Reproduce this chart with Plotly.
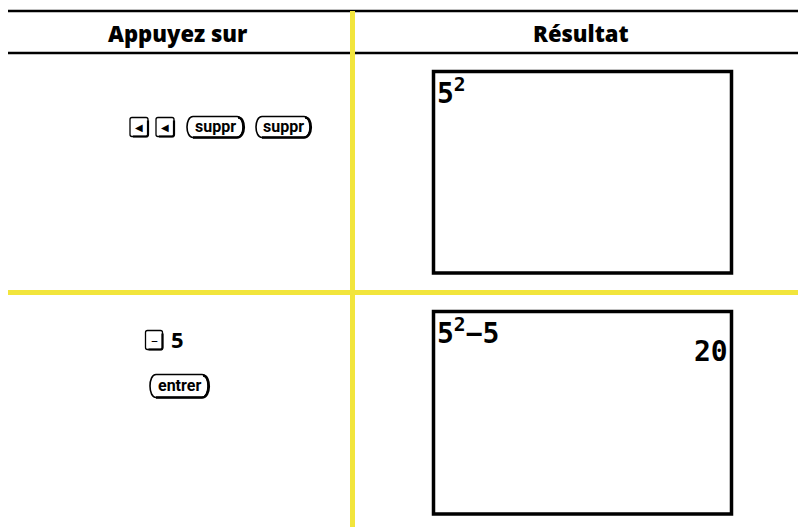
import plotly.graph_objects as go

# ---- data ----
headers = ["Appuyez sur", "Résultat"]
row1_keys = ["◀", "◀", "suppr", "suppr"]
row1_key_kinds = ["square", "square", "pill", "pill"]
row2_line1 = ["–", "5"]
row2_line2 = ["entrer"]
screen1_lines = ["5<sup>2</sup>"]
screen2_lines = ["5<sup>2</sup>−5"]
screen2_results = ["20"]

W, H = 806, 527
OFF = 8  # browser body margin
YELLOW = "#f2e53c"

fig = go.Figure()
shapes = []
ann = []

def line(x0, y0, x1, y1, color, width):
    shapes.append(dict(type="line", x0=x0, y0=y0, x1=x1, y1=y1,
                       line=dict(color=color, width=width), layer="above"))

# table rules
line(7, 11, W + 2, 11, "black", 2.5)
line(7, 53, W + 2, 53, "black", 2.5)
line(352.5, 11, 352.5, H + 10, YELLOW, 5)
line(7, 292.5, W + 2, 292.5, YELLOW, 5)

# headers
HF = dict(family="Open Sans", size=22, color="black", weight=800)
ann.append(dict(x=178, y=33, text=headers[0], showarrow=False, font=HF))
ann.append(dict(x=581, y=33, text=headers[1], showarrow=False, font=HF))

# screens
for (y0, y1) in [(71.5, 273), (311.5, 514)]:
    shapes.append(dict(type="rect", x0=433.5, x1=731.5, y0=y0, y1=y1,
                       line=dict(color="black", width=3.5), fillcolor="white"))

MONO = "DejaVu Sans Mono"
SF = dict(family=MONO, size=28, color="black", weight="bold")
ann.append(dict(x=435, y=71, text=screen1_lines[0], showarrow=False, xanchor="left",
                yanchor="top", font=SF))
ann.append(dict(x=435, y=311, text=screen2_lines[0], showarrow=False, xanchor="left",
                yanchor="top", font=SF))
ann.append(dict(x=730, y=333, text=screen2_results[0], showarrow=False, xanchor="right",
                yanchor="top", font=SF))

def square_key(xc, yc, label, w=18, h=19):
    x0, x1, y0, y1 = xc - w/2, xc + w/2, yc - h/2, yc + h/2
    shapes.append(dict(type="path",
                       path=f"M{x0+2},{y0} L{x1-2},{y0} Q{x1},{y0} {x1},{y0+2} L{x1},{y1-2} Q{x1},{y1} {x1-2},{y1} L{x0+2},{y1} Q{x0},{y1} {x0},{y1-2} L{x0},{y0+2} Q{x0},{y0} {x0+2},{y0} Z",
                       line=dict(color="black", width=1.3), fillcolor="white"))
    shapes.append(dict(type="path",
                       path=f"M{x1},{y0+3} L{x1},{y1-2} Q{x1},{y1} {x1-2},{y1} L{x0+3},{y1}",
                       line=dict(color="black", width=2.2)))
    ann.append(dict(x=xc, y=yc, text=label, showarrow=False,
                    font=dict(family="DejaVu Sans", size=10 if label == "◀" else 14, color="black")))

def pill_key(xc, yc, label, w, h=21):
    x0, x1, y0, y1 = xc - w/2, xc + w/2, yc - h/2, yc + h/2
    r = 8
    shapes.append(dict(type="path",
                       path=(f"M{x0+r},{y0} L{x1-r},{y0} C{x1},{y0} {x1},{y1} {x1-r},{y1} "
                             f"L{x0+r},{y1} C{x0},{y1} {x0},{y0} {x0+r},{y0} Z"),
                       line=dict(color="black", width=1.6), fillcolor="white"))
    shapes.append(dict(type="path",
                       path=f"M{x1-r+1},{y0+1} C{x1+1},{y0+1} {x1+1},{y1} {x1-r},{y1} L{x0+r},{y1}",
                       line=dict(color="black", width=2.4)))
    ann.append(dict(x=xc, y=yc - 1, text=label, showarrow=False,
                    font=dict(family="Roboto", size=16, color="black", weight="bold")))

# row 1 keys
row1_y = 127
xs = [139, 165, 215, 283]
widths = [18, 18, 60, 58]
for lab, kind, xc, w in zip(row1_keys, row1_key_kinds, xs, widths):
    if kind == "square":
        square_key(xc, row1_y, lab, w=w)
    else:
        pill_key(xc, row1_y, lab, w)

# row 2 keys
square_key(154, 340, row2_line1[0], w=17, h=19)
ann.append(dict(x=177, y=339, text=row2_line1[1], showarrow=False,
                font=dict(family="Open Sans", size=22, color="black", weight="bold")))
pill_key(179, 386, row2_line2[0], 62, h=23)

fig.update_layout(
    width=W, height=H, margin=dict(l=0, r=0, t=0, b=0),
    paper_bgcolor="white", plot_bgcolor="white",
    xaxis=dict(range=[OFF, W + OFF], visible=False, fixedrange=True),
    yaxis=dict(range=[H + OFF, OFF], visible=False, fixedrange=True),
    shapes=shapes, annotations=ann, showlegend=False,
)
fig.write_html("out.html")
